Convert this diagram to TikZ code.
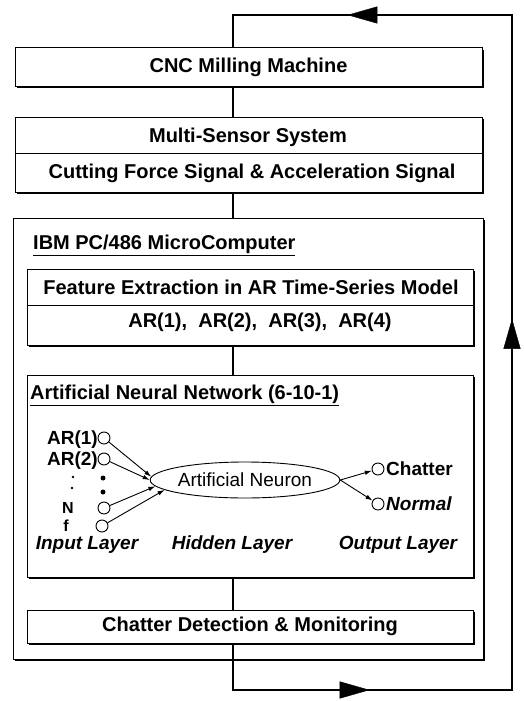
\documentclass[tikz,border=0pt]{standalone}
\usepackage{fontspec}
\setmainfont{Liberation Sans}
\usetikzlibrary{positioning,arrows.meta,shadows,shapes.geometric,decorations.markings}

\begin{document}
\begin{tikzpicture}[x=1pt,y=-1pt,
  box/.style={draw,line width=1pt,fill=white,inner sep=0pt,drop shadow={shadow xshift=2.4pt,shadow yshift=-2.4pt,fill=black,opacity=1}},
  txt/.style={font=\fontsize{20}{23}\selectfont\bfseries,inner sep=0pt},
  stxt/.style={font=\fontsize{19}{22}\selectfont\bfseries,inner sep=0pt,anchor=base},
  ntxt/.style={font=\fontsize{16}{18}\selectfont\bfseries,inner sep=0pt,anchor=base},
  ltxt/.style={font=\fontsize{19}{22}\selectfont\bfseries\itshape,inner sep=0pt,anchor=base},
  unit/.style={draw,circle,line width=0.9pt,minimum size=12pt,inner sep=0pt},
  blob/.style={circle,fill,minimum size=#1,inner sep=0pt},
  wire/.style={line width=0.9pt,-{Latex[length=7pt,width=4.5pt]}},
  link/.style={line width=1.2pt},
  loopline/.style={line width=1.6pt},
  head/.style={postaction=decorate,decoration={markings,mark=at position #1 with {\arrow{Triangle[length=30pt,width=17pt]}}}}]
\useasboundingbox (0,0) rectangle (524,701);
% main blocks
\node[box,txt,minimum width=467pt,minimum height=38pt] (cnc) at (248.5,67) {CNC Milling Machine};
\node[box,minimum width=467pt,minimum height=75pt] (sensor) at (248.5,154.5) {};
\node[txt] (sys) at (248,137) {Multi-Sensor System};
\node[txt] (sig) at (252,173) {Cutting Force Signal \& Acceleration Signal};
\draw[line width=1pt] (sensor.west |- 0,153) -- (sensor.east |- 0,153);
\node[box,minimum width=470pt,minimum height=441pt] (ibm) at (248,438.5) {};
\node[txt,anchor=west] (pc) at (33,245) {\underline{IBM PC/486 MicroComputer}};
% feature extraction
\node[box,minimum width=446pt,minimum height=76pt] (feat) at (250,307) {};
\node[txt] (ftitle) at (251,287) {Feature Extraction in AR Time-Series Model};
\node[txt] (coef) at (260,322) {AR(1),~ AR(2),~ AR(3),~ AR(4)};
\draw[line width=1pt] (feat.west |- 0,305) -- (feat.east |- 0,305);
% neural network
\node[box,minimum width=446pt,minimum height=202pt] (ann) at (250,476) {};
\node[txt,anchor=west] (atitle) at (30,395) {\underline{Artificial Neural Network (6-10-1)}};
\node[unit] (in1) at (104,438) {};
\node[stxt,anchor=base east] (l1) at (98,444) {AR(1)};
\node[unit] (in2) at (104,459) {};
\node[stxt,anchor=base east] (l2) at (98,465) {AR(2)};
\node[blob=2.8pt] (c1) at (73,477) {};
\node[blob=2.8pt] (c2) at (72,488) {};
\node[blob=5pt] (d1) at (103,478) {};
\node[blob=5pt] (d2) at (103,492) {};
\node[unit] (inN) at (104,508) {};
\node[ntxt] (lN) at (68,513) {N};
\node[unit] (inf) at (102,526) {};
\node[ntxt] (lf) at (66,531) {f};
\node[draw,ellipse,line width=0.9pt,minimum width=176pt,minimum height=36pt,inner sep=0pt,font=\fontsize{19}{22}\selectfont] (neuron) at (245,480) {Artificial Neuron};
\node[unit] (out1) at (378,469) {};
\node[stxt,anchor=base west] (o1) at (386,475) {Chatter};
\node[unit] (out2) at (378,504) {};
\node[ltxt,anchor=base west] (o2) at (386,510) {Normal};
\draw[wire] (in1) -- (neuron.178);
\draw[wire] (in2) -- (neuron.180);
\draw[wire] (inN) -- (neuron.184);
\draw[wire] (inf) -- (neuron.187);
\draw[wire] (neuron.east) -- (out1);
\draw[wire] (neuron.east) -- (out2);
\node[ltxt] (lin) at (87,549) {Input Layer};
\node[ltxt] (lhid) at (232,549) {Hidden Layer};
\node[ltxt] (lout) at (398,549) {Output Layer};
% monitoring
\node[box,txt,minimum width=446pt,minimum height=33pt] (chat) at (250,626.5) {Chatter Detection \& Monitoring};
% connectors
\coordinate (spine) at (233,0);
\draw[link] (cnc.south -| spine) -- (sensor.north -| spine);
\draw[link] (sensor.south -| spine) -- (ibm.north -| spine);
\draw[link] (feat.south -| spine) -- (ann.north -| spine);
\draw[link] (ann.south -| spine) -- (chat.north -| spine);
% feedback loop
\coordinate (lb) at (233,690);
\coordinate (rb) at (512,690);
\coordinate (rt) at (512,15);
\coordinate (lt) at (233,15);
\draw[loopline,line join=miter] (chat.south -| spine) -- (lb) -- (rb) -- (rt) -- (lt) -- (cnc.north -| spine);
\path[head=0.49] (lb) -- (rb);
\path[head=0.55] (rb) -- (rt);
\path[head=0.59] (rt) -- (lt);
\end{tikzpicture}
\end{document}
